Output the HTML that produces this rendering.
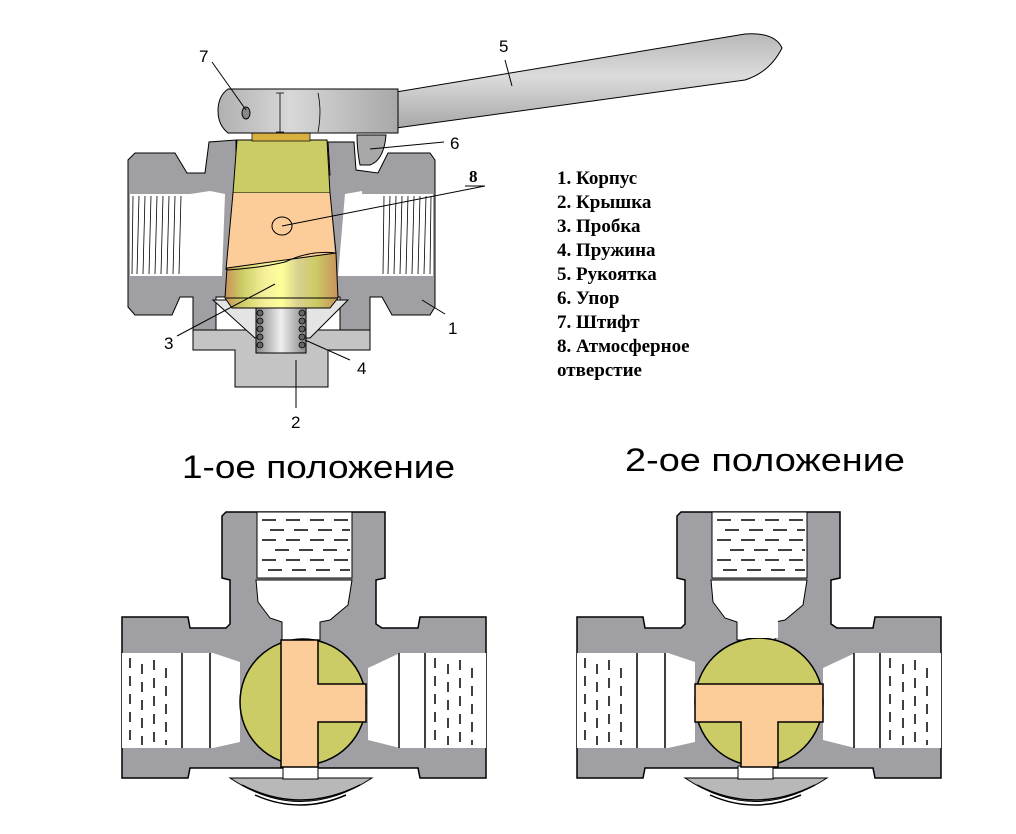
<!DOCTYPE html>
<html><head><meta charset="utf-8"><style>
html,body{margin:0;padding:0;background:#fff;}
svg{display:block}
.lg{font-family:"Liberation Serif",serif;font-weight:bold;font-size:19px;fill:#000}
.nm{font-family:"Liberation Sans",sans-serif;font-size:17px;fill:#000}
.hd{font-family:"Liberation Sans",sans-serif;font-size:32px;fill:#000}
</style></head><body>
<svg width="1016" height="834" viewBox="0 0 1016 834" xmlns="http://www.w3.org/2000/svg">
<defs>
<linearGradient id="lev" x1="0" y1="0" x2="0" y2="1">
<stop offset="0" stop-color="#b8b8b8"/><stop offset="0.45" stop-color="#dcdcdc"/><stop offset="1" stop-color="#a8a8a8"/></linearGradient>
<linearGradient id="head" x1="0" y1="0" x2="1" y2="0">
<stop offset="0" stop-color="#b0b0b0"/><stop offset="0.4" stop-color="#d8d8d8"/><stop offset="0.6" stop-color="#c8c8c8"/><stop offset="1" stop-color="#a8a8a8"/></linearGradient>
<linearGradient id="plugb" x1="0" y1="0" x2="1" y2="0">
<stop offset="0" stop-color="#c8925a"/><stop offset="0.15" stop-color="#cccc66"/><stop offset="0.35" stop-color="#f4f09a"/><stop offset="0.5" stop-color="#ffff99"/><stop offset="0.65" stop-color="#d8d090"/><stop offset="0.8" stop-color="#cccc66"/><stop offset="1" stop-color="#c8925a"/></linearGradient>
<linearGradient id="spr" x1="0" y1="0" x2="1" y2="0">
<stop offset="0" stop-color="#888"/><stop offset="0.5" stop-color="#eee"/><stop offset="1" stop-color="#888"/></linearGradient>
</defs>

<!-- lever -->
<path d="M396,92 L745,34 Q775,32 782,48 Q770,72 745,80 L396,128 Z" fill="url(#lev)" stroke="#000" stroke-width="1"/>
<path d="M357,135 L386,135 Q384,160 370,165 L360,165 Q357,150 357,135Z" fill="#a8a8a8" stroke="#000"/>
<!-- body -->
<path d="M135,153 L175,153 L187,173 L205,173 L209,142 L236,140 L236,175 L330,175 L328,142 L354,142 L356,170 L378,173 L388,153 L430,153 L435,160 L435,307 L430,315 L392,315 L382,297 L370,297 L370,331 L340,331 L340,297 L216,297 L216,331 L193,331 L193,297 L180,297 L172,315 L135,315 L128,307 L128,160 Z" fill="#a0a0a4" stroke="#000" stroke-width="1"/>
<rect x="130" y="194" width="72" height="82" fill="#fff"/>
<rect x="360" y="194" width="73" height="82" fill="#fff"/>
<path d="M190,194 L210,191 L225,194 L222,276 L190,276 Z" fill="#fff"/>
<path d="M345,194 L362,191 L365,276 L338,276 Z" fill="#fff"/>
<g stroke="#000" stroke-width="0.8">
<line x1="133" y1="196" x2="132" y2="274"/><line x1="139" y1="196" x2="137" y2="274"/><line x1="145" y1="196" x2="143" y2="274"/><line x1="151" y1="196" x2="149" y2="274"/><line x1="157" y1="196" x2="155" y2="274"/><line x1="163" y1="196" x2="161" y2="274"/><line x1="169" y1="196" x2="167" y2="274"/><line x1="175" y1="196" x2="173" y2="274"/><line x1="181" y1="196" x2="179" y2="274"/>
<line x1="384" y1="196" x2="383" y2="274"/><line x1="390" y1="196" x2="388" y2="274"/><line x1="396" y1="196" x2="394" y2="274"/><line x1="402" y1="196" x2="400" y2="274"/><line x1="408" y1="196" x2="406" y2="274"/><line x1="414" y1="196" x2="412" y2="274"/><line x1="420" y1="196" x2="418" y2="274"/><line x1="426" y1="196" x2="424" y2="274"/><line x1="431" y1="196" x2="430" y2="274"/>
</g>
<!-- cap -->
<path d="M193,330 L370,330 L370,350 L328,350 L328,387 L235,387 L235,350 L193,350 Z" fill="#c4c4c4" stroke="#000"/>
<path d="M213,300 L348,300 L310,338 L255,338 Z" fill="#e4e4e4" stroke="#000"/>
<rect x="256" y="308" width="50" height="45" fill="url(#spr)" stroke="#000"/>
<g fill="#666" stroke="#000" stroke-width="0.8">
<circle cx="260" cy="313" r="3"/><circle cx="260" cy="321" r="3"/><circle cx="260" cy="329" r="3"/><circle cx="260" cy="337" r="3"/><circle cx="260" cy="345" r="3"/>
<circle cx="302" cy="313" r="3"/><circle cx="302" cy="321" r="3"/><circle cx="302" cy="329" r="3"/><circle cx="302" cy="337" r="3"/><circle cx="302" cy="345" r="3"/>
</g>
<!-- plug -->
<path d="M237,140 L327,140 L330,193 L233,193 Z" fill="#cccc66" stroke="#000"/>
<path d="M233,193 L330,193 L336,270 L226,270 Z" fill="#fccc99"/>
<path d="M227,268 L336,253 L338,298 L330,308 L232,308 L225,298 Z" fill="url(#plugb)" stroke="#000"/>
<path d="M227,270 Q260,268 285,262 Q310,250 336,253" fill="none" stroke="#000"/>
<path d="M233,193 L226,270 M330,193 L336,253" stroke="#000" fill="none"/>
<line x1="226" y1="298" x2="338" y2="298" stroke="#000"/>
<ellipse cx="282" cy="226" rx="10" ry="9" fill="none" stroke="#000"/>
<!-- head -->
<rect x="252" y="133" width="58" height="8" fill="#d8b040" stroke="#000" stroke-width="0.7"/>
<path d="M228,89 L398,89 L398,133 L228,133 Q218,125 218,111 Q218,96 228,89Z" fill="url(#head)" stroke="#000"/>
<ellipse cx="246" cy="113" rx="4" ry="6" fill="#888" stroke="#000"/>
<path d="M280,93 L280,132 M276,93 L284,93 M276,132 L284,132 M318,93 Q322,112 318,132" stroke="#000" fill="none" stroke-width="0.8"/>

<g stroke="#000" stroke-width="1">
<line x1="212" y1="62" x2="246" y2="110"/>
<line x1="505" y1="60" x2="512" y2="86"/>
<line x1="370" y1="149" x2="444" y2="142"/>
<line x1="282" y1="226" x2="485" y2="186"/><line x1="465" y1="186" x2="485" y2="186"/>
<line x1="422" y1="300" x2="445" y2="314"/>
<line x1="177" y1="336" x2="275" y2="284"/>
<line x1="305" y1="340" x2="350" y2="360"/>
<line x1="296" y1="360" x2="296" y2="408"/>
</g>
<text class="nm" x="199" y="62">7</text>
<text class="nm" x="499" y="52">5</text>
<text class="nm" x="450" y="149">6</text>
<text class="lg" x="469" y="182" style="font-size:17px">8</text>
<text class="nm" x="448" y="334">1</text>
<text class="nm" x="164" y="349">3</text>
<text class="nm" x="357" y="374">4</text>
<text class="nm" x="291" y="428">2</text>

<g class="lg">
<text x="557" y="184">1. Корпус</text>
<text x="557" y="208">2. Крышка</text>
<text x="557" y="232">3. Пробка</text>
<text x="557" y="256">4. Пружина</text>
<text x="557" y="280">5. Рукоятка</text>
<text x="557" y="304">6. Упор</text>
<text x="557" y="328">7. Штифт</text>
<text x="557" y="352">8. Атмосферное</text>
<text x="557" y="376">отверстие</text>
</g>

<text class="hd" x="182" y="478" textLength="273" lengthAdjust="spacingAndGlyphs">1-ое положение</text>
<text class="hd" x="625" y="471" textLength="280" lengthAdjust="spacingAndGlyphs">2-ое положение</text>

<g id="valve">
<path d="M230,778 Q300,825 372,778 Z" fill="#b8b8b8" stroke="#000"/>
<path d="M242,785 Q300,815 360,785 M255,795 Q300,815 346,795" stroke="#000" fill="none" stroke-width="1.5"/>
<path d="M226,512 L385,512 L385,578 L376,580 L376,624 L382,628 L418,628 L420,617 L486,617 L486,778 L420,778 L418,768 L190,768 L188,778 L122,778 L122,617 L188,617 L190,628 L226,628 L230,624 L230,580 L222,578 L222,516 Z" fill="#a0a0a4" stroke="#000" stroke-width="1.5"/>
<rect x="257" y="512" width="95" height="66" fill="#fff" stroke="#000"/>
<path d="M256,580 L352,580 L348,605 L330,620 L320,622 L320,640 L282,640 L282,622 L270,618 L258,602 Z" fill="#fff" stroke="#000"/>
<path d="M122,653 L213,653 L240,662 L240,742 L213,748 L122,748 Z" fill="#fff"/>
<path d="M486,653 L400,653 L368,668 L368,740 L400,748 L486,748 Z" fill="#fff"/>
<g stroke="#000" stroke-width="1.5">
<line x1="182" y1="653" x2="182" y2="748"/><line x1="210" y1="653" x2="210" y2="748"/>
<line x1="399" y1="653" x2="399" y2="748"/><line x1="425" y1="653" x2="425" y2="748"/>
</g>
<g stroke="#000" stroke-width="1.5" stroke-dasharray="10,8">
<line x1="130" y1="658" x2="130" y2="745"/><line x1="142" y1="664" x2="142" y2="745"/><line x1="154" y1="660" x2="154" y2="745"/><line x1="166" y1="668" x2="166" y2="745"/>
<line x1="435" y1="658" x2="435" y2="745"/><line x1="448" y1="664" x2="448" y2="745"/><line x1="460" y1="660" x2="460" y2="745"/><line x1="472" y1="668" x2="472" y2="745"/>
</g>
<g stroke="#000" stroke-width="1.5" stroke-dasharray="14,10">
<line x1="262" y1="520" x2="350" y2="520"/><line x1="270" y1="530" x2="350" y2="530"/><line x1="262" y1="540" x2="350" y2="540"/><line x1="275" y1="550" x2="350" y2="550"/><line x1="262" y1="560" x2="350" y2="560"/><line x1="268" y1="570" x2="350" y2="570"/>
</g>
<rect x="283" y="766" width="35" height="13" fill="#fff" stroke="#000"/>
</g>
<circle cx="303" cy="702" r="63" fill="#cccc66" stroke="#000" stroke-width="1.5"/>
<path d="M281,640 L318,640 L318,684 L366,684 L366,722 L318,722 L318,767 L281,767 Z" fill="#fccc99" stroke="#000" stroke-width="1.5"/>

<use href="#valve" transform="translate(455,0)"/>
<circle cx="759" cy="702" r="64" fill="#cccc66" stroke="#000" stroke-width="1.5"/>
<path d="M695,684 L823,684 L823,722 L778,722 L778,767 L741,767 L741,722 L695,722 Z" fill="#fccc99" stroke="#000" stroke-width="1.5"/>
<rect x="741" y="620" width="37" height="18" fill="#fff"/>
</svg>
</body></html>
